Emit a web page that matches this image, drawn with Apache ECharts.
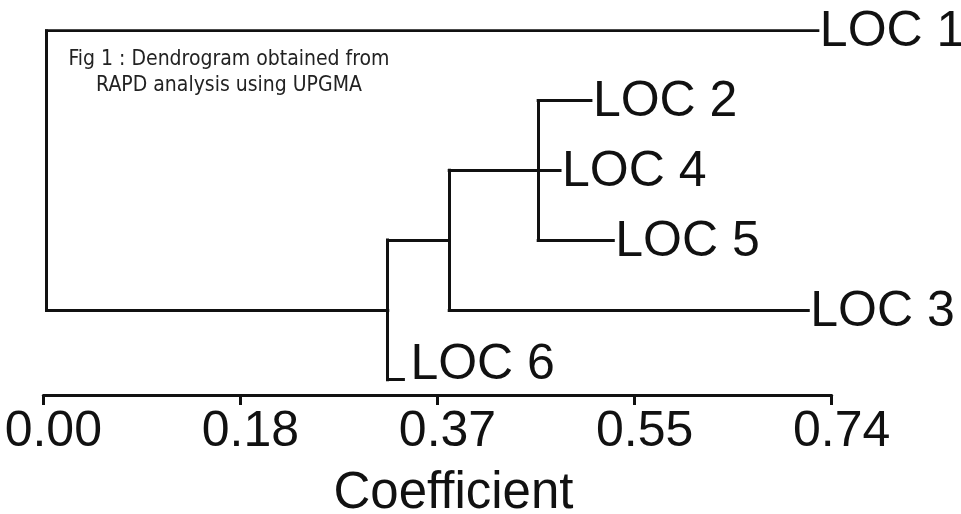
<!DOCTYPE html>
<html>
<head>
<meta charset="utf-8">
<script src="https://cdn.jsdelivr.net/npm/echarts@6/dist/echarts.min.js"></script>
<style>html,body{margin:0;padding:0;background:#fff}#c{width:961px;height:514px}</style>
</head>
<body>
<div id="c"></div>
<script>
// ---- data ----
const leafNames = ['LOC 1', 'LOC 2', 'LOC 4', 'LOC 5', 'LOC 3', 'LOC 6'];
const leafRows = [0, 1, 2, 3, 4, 5];
const leafCoef = [0.727, 0.514, 0.485, 0.535, 0.718, 0.338];
const nodeIds = ['n245', 'n2453', 'n24536', 'root'];
const nodeCoef = [0.4645, 0.381, 0.3233, 0.003];
const nodeChildren = [
  ['LOC 2', 'LOC 4', 'LOC 5'],
  ['n245', 'LOC 3'],
  ['n2453', 'LOC 6'],
  ['LOC 1', 'n24536']
];
const nodeRows = [2, 3, 4, null];
const tickValues = [0, 0.185, 0.37, 0.555, 0.74];
const tickLabels = ['0.00', '0.18', '0.37', '0.55', '0.74'];
const axisTitle = 'Coefficient';
const noteText = 'Fig 1 : Dendrogram obtained from\nRAPD analysis using UPGMA';

// ---- build segments ----
function info(id) {
  let i = leafNames.indexOf(id);
  if (i >= 0) return { x: leafCoef[i], row: leafRows[i] };
  i = nodeIds.indexOf(id);
  return { x: nodeCoef[i], row: nodeRows[i] };
}
const segs = [];
nodeIds.forEach((id, k) => {
  const x = nodeCoef[k];
  const kids = nodeChildren[k].map(info);
  const rows = kids.map(c => c.row);
  segs.push({ coords: [[x, Math.min(...rows)], [x, Math.max(...rows)]] });
  kids.forEach(c => segs.push({ coords: [[x, c.row], [c.x, c.row]] }));
});

const labelData = leafNames.map((n, i) => {
  const item = { name: n, value: [leafCoef[i], leafRows[i]] };
  if (n === 'LOC 6') {
    item.label = { distance: 7, offset: [0, -14] };
  }
  return item;
});

const FONT = '"Liberation Sans", Arial, sans-serif';
const chart = echarts.init(document.getElementById('c'), null, { renderer: 'canvas' });
chart.setOption({
  backgroundColor: '#fff',
  animation: false,
  grid: { left: 43.3, right: 129.3, top: 30.7, bottom: 119, containLabel: false, outerBoundsMode: 'none' },
  xAxis: {
    type: 'value', min: 0, max: 0.74, interval: 0.185, position: 'bottom',
    splitLine: { show: false },
    axisLine: { onZero: false, lineStyle: { color: '#111', width: 3 } },
    axisTick: { length: 10, lineStyle: { color: '#111', width: 3 } },
    axisLabel: {
      color: '#111', fontSize: 50, fontFamily: FONT,
      margin: 12, padding: [0, 0, 0, 20],
      formatter: v => {
        const i = tickValues.findIndex(t => Math.abs(t - v) < 1e-6);
        return i >= 0 ? tickLabels[i] : '';
      }
    },
    name: axisTitle, nameLocation: 'middle', nameGap: 73,
    nameTextStyle: { color: '#111', fontSize: 51, fontFamily: FONT, padding: [0, 0, 0, 32] }
  },
  yAxis: { type: 'value', inverse: true, min: 0, max: 5.22, show: false },
  graphic: [{
    type: 'text', x: 229, y: 47,
    style: {
      text: noteText, fill: '#222', textAlign: 'center', textVerticalAlign: 'top',
      font: '21px "DejaVu Sans Condensed", "DejaVu Sans", sans-serif', lineHeight: 26
    }
  }],
  series: [
    {
      type: 'lines', coordinateSystem: 'cartesian2d',
      lineStyle: { color: '#111', width: 3, opacity: 1, cap: 'square' },
      data: segs, silent: true
    },
    {
      type: 'scatter', symbolSize: 0, data: labelData, silent: true,
      itemStyle: { opacity: 1 },
      label: {
        show: true, position: 'right', distance: 2, offset: [0, 2], formatter: '{b}', opacity: 1,
        color: '#111', fontSize: 50, fontFamily: FONT
      }
    }
  ]
});
</script>
</body>
</html>
